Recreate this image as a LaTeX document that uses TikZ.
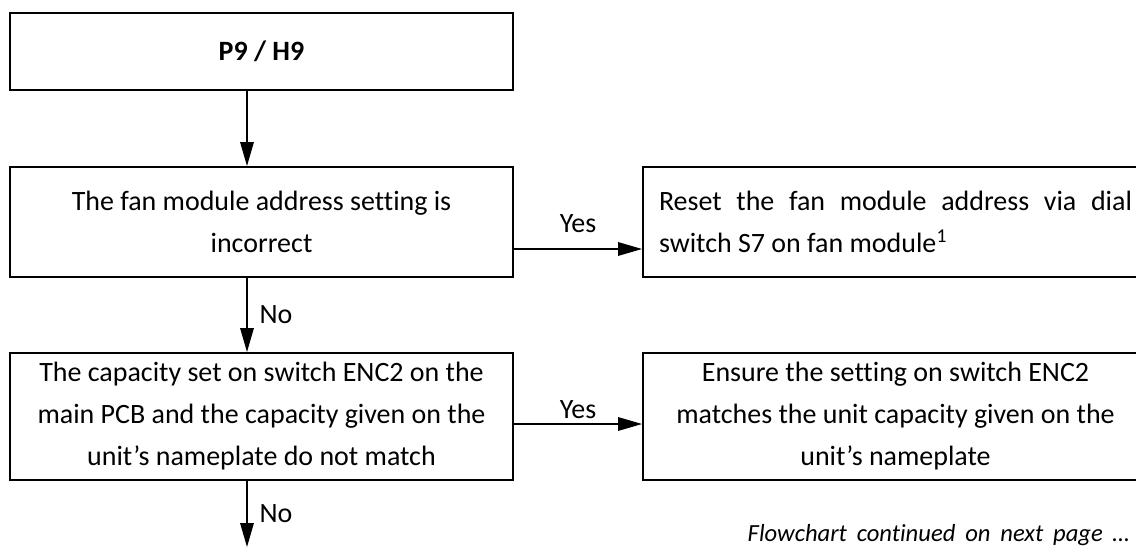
\documentclass[tikz,border=0pt]{standalone}
\usepackage{fontspec}
\setmainfont{Carlito}[Ligatures={TeX,NoCommon}]
\usetikzlibrary{arrows.meta,calc,positioning}

\begin{document}
\begin{tikzpicture}[>={Triangle[length=0.6cm,width=0.34cm]},
    font=\fontsize{19.9}{29.9}\selectfont,
    flowbox/.style={draw,line width=1.4pt,inner sep=0pt,align=center},
    link/.style={->,line width=0.9pt}]
    \useasboundingbox (0,0) rectangle (28.4,13.7);

    % Fault code and the two checks on the left.
    \node[flowbox,minimum width=12.575cm,minimum height=1.925cm] (code)
      at (6.5375,12.4125) {\bfseries P9 / H9};
    \node[flowbox,minimum width=12.575cm,minimum height=2.75cm] (address)
      at (6.5375,8.15) {The fan module address setting is\\incorrect};
    \node[flowbox,minimum width=12.575cm,minimum height=3.175cm] (capacity)
      at (6.5375,3.2875)
      {The capacity set on switch ENC2 on the\\main PCB and the capacity given on the\\unit's nameplate do not match};

    % Remedies on the right (the boxes run past the page edge).
    \node[flowbox,minimum width=12.625cm,minimum height=2.75cm,
      text width=11.825cm,align=justify] (reset) at (22.3875,8.15)
      {Reset the fan module address via dial\linebreak switch S7 on fan module\textsuperscript{1}};
    \node[flowbox,minimum width=12.625cm,minimum height=3.175cm] (ensure)
      at (22.3875,3.2875)
      {Ensure the setting on switch ENC2\\matches the unit capacity given on the\\unit's nameplate};

    % Connectors.
    \coordinate (spine) at (6.175,0.025);
    \coordinate (yesA) at (0,7.475);
    \coordinate (yesB) at (0,3.1);
    \draw[link] (code.south -| spine) -- (address.north -| spine);
    \draw[link] (address.south -| spine) -- (capacity.north -| spine)
      node[midway,right=0.3cm,inner sep=0pt] {No};
    \draw[link] (capacity.south -| spine) -- (spine)
      node[midway,right=0.3cm,inner sep=0pt] {No};
    \draw[link] (address.east |- yesA) -- (reset.west |- yesA)
      node[midway,above=0.4cm,inner sep=0pt] {Yes};
    \draw[link] (capacity.east |- yesB) -- (ensure.west |- yesB)
      node[midway,above=0.125cm,inner sep=0pt] {Yes};

    \node[anchor=base east,inner sep=0pt,
      font=\fontsize{17.5}{21}\selectfont\itshape] (nextpage) at (28.25,0.16)
      {\makebox[9.55cm][s]{Flowchart continued on next page …}};
  \end{tikzpicture}
\end{document}
